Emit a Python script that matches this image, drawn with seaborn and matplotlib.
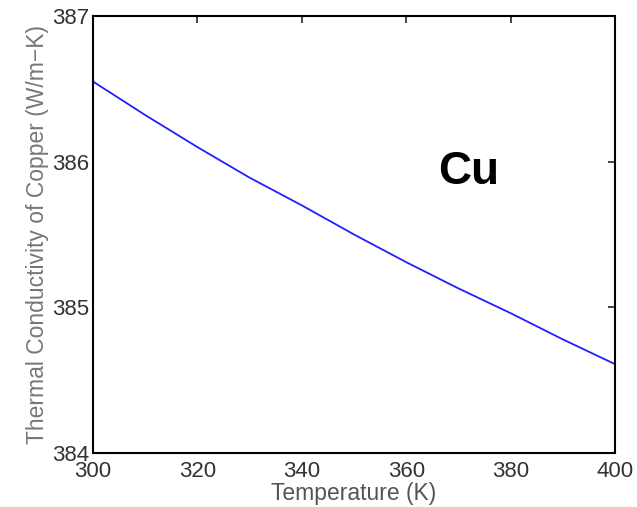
import matplotlib
matplotlib.use("Agg")
import matplotlib.pyplot as plt
import seaborn as sns
import pandas as pd

# Data
temperature = [300, 310, 320, 330, 340, 350, 360, 370, 380, 390, 400]
conductivity = [386.55, 386.32, 386.10, 385.89, 385.70, 385.50,
                385.31, 385.13, 384.96, 384.78, 384.61]
x_ticks = [300, 320, 340, 360, 380, 400]
y_ticks = [384, 385, 386, 387]

sns.set_style("white")
plt.rcParams["font.family"] = ["Liberation Sans", "DejaVu Sans"]

df = pd.DataFrame({"T": temperature, "k": conductivity})

fig = plt.figure(figsize=(6.37, 5.07), dpi=100)
ax = fig.add_axes([0.146, 0.1065, 0.8195, 0.862])

sns.lineplot(data=df, x="T", y="k", ax=ax, color="#2020ff", linewidth=1.3)

ax.set_xlim(300, 400)
ax.set_ylim(384, 387)
ax.set_xticks(x_ticks)
ax.set_yticks(y_ticks)
ax.tick_params(direction="in", length=5, width=1.2, top=True, right=True,
               labelsize=16, labelcolor="#333333")
ax.tick_params(axis="x", pad=6)
ax.tick_params(axis="y", pad=3)
for s in ax.spines.values():
    s.set_color("black")
    s.set_linewidth(1.5)

ax.set_xlabel("Temperature (K)", fontsize=16.5, color="#555555", labelpad=0)
ax.set_ylabel("Thermal Conductivity of Copper (W/m\u2212K)", fontsize=16.5,
              color="#777777", labelpad=2)

ax.text(372, 385.85, "Cu", fontsize=33, fontweight="bold", ha="center",
        va="baseline", color="black")

fig.savefig("out.png", dpi=100)
